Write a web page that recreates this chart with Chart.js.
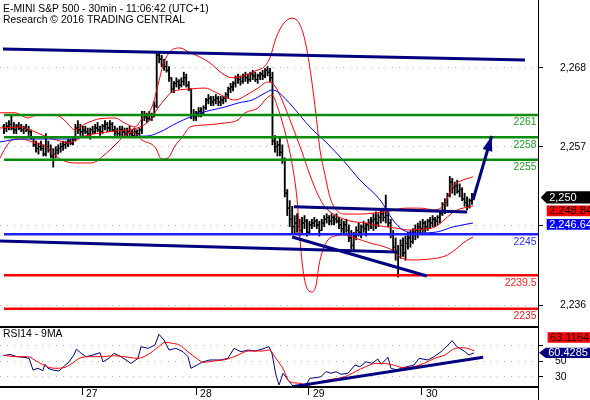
<!DOCTYPE html>
<html><head><meta charset="utf-8">
<script src="https://cdn.jsdelivr.net/npm/chart.js@4.4.1/dist/chart.umd.min.js"></script>
<style>
html,body{margin:0;padding:0;background:#fff;}
#wrap{position:relative;width:590px;height:400px;overflow:hidden;background:#fff;}
#c1{position:absolute;left:0;top:0;width:590px;height:327px;}
#c2{position:absolute;left:0;top:327px;width:590px;height:73px;}
</style></head><body>
<div id="wrap">
<canvas id="c1" width="590" height="327"></canvas>
<canvas id="c2" width="590" height="73"></canvas>
</div>
<script>
const FONT = "'Liberation Sans', Arial, sans-serif";
Chart.defaults.font.family = FONT;
Chart.defaults.font.size = 10.4;
Chart.defaults.color = '#000';

const titleLines = ['E-MINI S&P 500 - 30min - 11:06:42 (UTC+1)', 'Research \u00A9 2016 TRADING CENTRAL'];
const rsiTitle = 'RSI14 - 9MA';

// 30-min OHLC bars (index = bar number)
const highs = [2259.75,2260.0,2260.25,2261.0,2260.0,2259.75,2260.0,2259.75,2259.5,2259.75,2259.5,2259.0,
2258.0,2257.5,2257.25,2257.5,2257.0,2258.5,2257.5,2257.0,2256.5,2256.75,
2257.0,2257.25,2257.5,2257.5,2257.75,2257.75,2258.0,
2259.75,2260.25,2259.75,2259.5,2259.5,2259.25,2259.25,2259.5,2259.75,2260.0,2259.5,2259.75,2260.25,2260.0,2260.25,2260.0,2259.5,2259.25,2259.5,2259.5,
2259.25,2259.25,2259.5,2259.0,2259.25,2259.0,2259.25,
2261.5,2261.5,2261.25,2261.5,2261.25,2262.75,
2269.5,2269.5,2269.0,2268.5,2268.25,2267.5,
2266.0,2265.5,2266.0,2265.75,2266.0,2266.75,2266.5,2265.5,
2264.5,2261.75,2261.5,2262.0,2262.0,2262.25,
2263.25,2263.75,2263.5,2263.5,2263.75,2263.5,2263.5,2263.5,
2264.0,2264.75,2265.25,2265.5,2266.25,2266.5,2266.25,2266.5,2266.75,2266.5,2266.75,2267.0,2266.75,2266.5,2266.75,2267.0,2267.25,2267.5,
2267.25,2266.75,2258.25,2257.5,2258.0,2257.0,2255.25,2251.0,2249.5,2248.75,2247.5,2247.75,2247.0,
2247.25,2247.5,2247.0,2246.75,2247.0,2247.25,2247.0,2246.75,2247.0,2247.5,2247.75,2247.5,2247.75,2247.5,2247.75,2247.25,2247.0,2246.75,2247.0,
2246.25,2245.5,2245.25,2246.0,2246.5,2246.25,2246.75,2246.5,2247.0,2247.25,
2247.75,2248.0,2247.75,2248.25,2248.5,2250.25,2248.0,2247.0,2245.5,2244.5,2243.5,2244.25,2244.5,2244.75,2245.25,2245.5,2245.75,2246.25,2246.5,2246.75,2247.0,2246.75,2247.0,2247.25,2247.5,2247.25,2247.5,2248.0,
2249.25,2249.75,2250.5,2252.75,2252.5,2252.0,2252.25,2251.75,2251.25,2250.5,2250.0,2249.75,2250.5];
const lows = [2258.5,2258.75,2259.0,2259.0,2258.5,2258.5,2259.0,2258.75,2258.5,2258.75,2258.25,2257.75,
2256.75,2256.0,2255.75,2256.25,2255.5,2255.5,2256.0,2255.25,2254.0,2255.25,
2255.75,2256.0,2256.25,2256.5,2256.75,2257.0,2257.0,
2257.5,2258.5,2258.25,2258.0,2258.5,2258.25,2257.75,2258.5,2258.5,2258.75,2258.25,2258.5,2259.0,2258.75,2258.75,2258.75,2258.25,2258.25,2258.0,2258.25,
2258.0,2258.0,2258.25,2258.0,2258.0,2258.0,2258.25,
2258.5,2260.25,2260.0,2260.25,2260.25,2260.75,
2262.0,2268.0,2267.5,2267.0,2266.75,2265.5,
2264.0,2264.0,2264.75,2264.5,2264.75,2265.0,2264.75,2264.25,
2260.5,2260.25,2260.25,2260.75,2260.75,2261.0,
2261.75,2262.5,2262.25,2262.25,2262.5,2262.25,2262.25,2262.5,
2262.75,2263.25,2264.0,2264.25,2264.75,2265.25,2265.0,2265.25,2265.5,2265.25,2265.5,2265.75,2265.5,2265.25,2265.75,2265.75,2266.0,2266.25,
2265.5,2257.0,2256.0,2255.5,2255.5,2254.5,2250.0,2247.5,2246.0,2245.0,2245.0,2245.25,2244.75,
2245.0,2245.75,2244.75,2245.0,2245.75,2246.0,2245.75,2244.75,2245.5,2246.0,2246.5,2246.25,2246.25,2246.25,2246.5,2245.75,2245.25,2245.0,2245.25,
2244.0,2243.0,2242.75,2244.25,2244.75,2244.5,2245.25,2244.75,2245.5,2245.75,
2245.5,2245.75,2246.0,2246.5,2246.75,2246.5,2246.0,2244.5,2242.75,2241.5,2239.25,2241.75,2242.0,2241.5,2243.0,2243.25,2243.75,2244.25,2244.5,2245.0,2245.25,2245.25,2245.5,2245.75,2246.0,2246.0,2246.25,2246.5,
2247.5,2247.75,2248.75,2250.0,2250.5,2250.25,2250.5,2250.0,2249.5,2248.75,2248.25,2248.5,2249.0];
const closes = [2259.25,2259.5,2259.75,2259.25,2259.0,2259.5,2259.25,2259.0,2259.25,2259.0,2258.75,2258.0,
2257.0,2256.5,2256.75,2256.5,2255.75,2256.75,2256.25,2255.5,2255.75,2256.25,
2256.5,2256.75,2257.0,2257.25,2257.5,2257.25,2257.75,
2259.25,2259.0,2258.75,2259.0,2258.75,2258.5,2259.0,2258.75,2259.25,2259.0,2258.75,2259.5,2259.75,2259.25,2259.75,2259.0,2258.75,2258.5,2259.0,2258.75,
2258.5,2258.75,2258.5,2258.25,2258.75,2258.5,2259.0,
2261.0,2260.75,2260.5,2261.0,2260.75,2262.25,
2269.0,2268.5,2267.75,2267.5,2267.0,2266.0,
2264.5,2265.25,2265.5,2265.0,2265.5,2266.0,2265.0,2264.5,
2261.0,2260.75,2261.25,2261.5,2261.25,2262.0,
2263.0,2263.25,2262.75,2263.0,2263.25,2262.75,2263.0,2263.25,
2263.75,2264.5,2264.75,2265.25,2266.0,2265.75,2265.5,2266.25,2266.0,2265.75,2266.5,2266.25,2265.75,2266.25,2266.5,2266.25,2267.0,2266.75,
2266.0,2257.5,2256.75,2257.0,2256.0,2255.0,2250.5,2248.5,2247.0,2246.0,2246.5,2246.0,2245.5,
2246.5,2246.75,2245.25,2246.25,2246.5,2246.75,2246.25,2245.5,2246.5,2247.0,2247.25,2246.75,2247.25,2247.0,2246.75,2246.25,2245.75,2246.25,2245.5,
2244.5,2243.5,2244.75,2245.5,2245.25,2246.0,2245.75,2246.25,2246.5,2246.75,
2247.0,2246.5,2247.25,2247.75,2247.25,2247.5,2246.5,2245.0,2243.25,2242.5,2242.0,2243.5,2242.5,2243.75,2244.5,2244.0,2245.25,2245.5,2246.0,2245.75,2246.5,2246.0,2246.75,2246.5,2247.0,2246.75,2247.25,2247.75,
2249.0,2249.25,2250.25,2252.0,2251.25,2251.5,2250.75,2251.0,2249.75,2249.25,2248.75,2249.5,2250.0];
const opens = [2259.5,2259.25,2259.5,2259.75,2259.25,2259.0,2259.5,2259.25,2259.0,2259.25,2259.0,2258.75,
2258.0,2257.0,2256.5,2256.75,2256.5,2255.75,2256.75,2256.25,2255.5,2255.75,
2256.25,2256.5,2256.75,2257.0,2257.25,2257.5,2257.25,
2257.75,2259.25,2259.0,2258.75,2259.0,2258.75,2258.5,2259.0,2258.75,2259.25,2259.0,2258.75,2259.5,2259.75,2259.25,2259.75,2259.0,2258.75,2258.5,2259.0,
2258.75,2258.5,2258.75,2258.5,2258.25,2258.75,2258.5,
2259.0,2261.0,2260.75,2260.5,2261.0,2260.75,
2262.25,2269.0,2268.5,2267.75,2267.5,2267.0,
2266.0,2264.5,2265.25,2265.5,2265.0,2265.5,2266.0,2265.0,
2264.5,2261.0,2260.75,2261.25,2261.5,2261.25,
2262.0,2263.0,2263.25,2262.75,2263.0,2263.25,2262.75,2263.0,
2263.25,2263.75,2264.5,2264.75,2265.25,2266.0,2265.75,2265.5,2266.25,2266.0,2265.75,2266.5,2266.25,2265.75,2266.25,2266.5,2266.25,2267.0,
2266.75,2266.0,2257.5,2256.75,2257.0,2256.0,2255.0,2250.5,2248.5,2247.0,2246.0,2246.5,2246.0,
2245.5,2246.5,2246.75,2245.25,2246.25,2246.5,2246.75,2246.25,2245.5,2246.5,2247.0,2247.25,2246.75,2247.25,2247.0,2246.75,2246.25,2245.75,2246.25,
2245.5,2244.5,2243.5,2244.75,2245.5,2245.25,2246.0,2245.75,2246.25,2246.5,
2246.75,2247.0,2246.5,2247.25,2247.75,2247.25,2247.5,2246.5,2245.0,2243.25,2242.5,2242.0,2243.5,2242.5,2243.75,2244.5,2244.0,2245.25,2245.5,2246.0,2245.75,2246.5,2246.0,2246.75,2246.5,2247.0,2246.75,2247.25,
2247.75,2249.0,2249.25,2250.25,2252.0,2251.25,2251.5,2250.75,2251.0,2249.75,2249.25,2248.75,2249.5];

// indicator lines: [bar index, value]
const bbUpper = [[-1.6,2261.3],[4.5,2261.3],[9.7,2260.6],[12.2,2260.9],[16.6,2261.0],[21.9,2260.9],[25.2,2260.1],[28.8,2259.0],[32.9,2259.8],[39,2260.5],[45.1,2260.6],[49.1,2259.9],[53.2,2259.4],[56,2260.5],[60.1,2262.1],[62.5,2265.0],[64.6,2267.7],[67.4,2269.5],[71.5,2270.0],[74.7,2269.5],[78.8,2268.9],[83.6,2268.0],[88.5,2266.6],[92.6,2266.0],[96.6,2266.2],[101.9,2266.9],[106,2267.6],[108,2268.7],[110.4,2271.3],[113.3,2273.2],[116.9,2274.0],[120.2,2273.1],[122.6,2270.4],[124.6,2266.4],[126.7,2261.0],[128.3,2256.3],[130.3,2253.0],[132.4,2249.9],[134.8,2248.3],[138.4,2247.7],[144.5,2247.7],[150.6,2247.85],[156.7,2248.1],[162.8,2248.5],[168.9,2248.5],[175,2248.25],[178.2,2248.8],[180.3,2250.1],[182.3,2251.5],[185.1,2252.1],[190.4,2252.7]];
const bbMiddle = [[-1.6,2259.26],[6.5,2259.39],[10.6,2258.99],[14.6,2258.45],[18.7,2257.91],[22.7,2257.51],[26,2257.24],[29.2,2257.64],[32.9,2258.18],[39,2258.58],[45.1,2258.85],[50.3,2258.99],[55.2,2259.39],[59.3,2260.33],[62.5,2261.94],[65.4,2263.15],[68.2,2264.09],[75.5,2264.49],[81.6,2264.62],[85.7,2264.09],[89.7,2263.42],[93.8,2263.01],[97.8,2263.55],[103.1,2264.62],[107.2,2265.43],[110,2264.89],[112.9,2263.01],[116.9,2259.66],[121,2256.03],[124.2,2252.95],[127.5,2250.26],[130.3,2248.65],[134.4,2247.58],[140.5,2246.77],[146.6,2246.5],[152.7,2246.1],[158.8,2245.83],[164.8,2245.56],[170.9,2245.7],[175,2245.97],[179.1,2247.04],[183.1,2248.11],[190.4,2248.79]];
const bbLower = [[-1.6,2255.23],[0.8,2256.7],[3.2,2257.64],[7.3,2257.78],[11.4,2257.38],[16.6,2256.84],[20.7,2255.63],[23.5,2254.96],[28.8,2254.56],[34.9,2254.56],[37.8,2254.83],[40.2,2255.5],[43,2256.3],[46.3,2257.38],[49.1,2258.32],[52,2258.72],[56,2257.64],[61.3,2256.7],[64.1,2255.09],[66.6,2255.23],[69.4,2256.84],[72.7,2258.18],[75.5,2259.39],[81.6,2259.66],[89.7,2259.93],[95,2260.33],[97.8,2261.27],[103.1,2261.94],[106.4,2263.15],[108.8,2263.68],[111.2,2261.94],[114.1,2258.72],[116.9,2254.56],[119,2249.59],[120.2,2244.22],[121.4,2240.19],[123.4,2237.51],[125.1,2237.24],[126.7,2238.18],[127.9,2240.87],[129.5,2242.88],[131.5,2244.22],[134.4,2244.76],[138.4,2244.89],[142.5,2244.49],[148.6,2243.82],[154.7,2243.28],[158.8,2242.61],[160.8,2241.94],[164.8,2241.54],[173,2241.67],[179.1,2242.07],[183.1,2242.88],[186.4,2243.82],[190.4,2244.62]];
const maBlue = [[-1.6,2257.38],[6.5,2257.78],[10.6,2257.78],[26.8,2257.78],[32.9,2258.05],[58.1,2258.18],[63.3,2258.72],[70.2,2259.93],[75.5,2260.73],[79.6,2261.27],[84.4,2261.67],[89.7,2262.07],[95,2262.61],[100.7,2263.01],[106,2263.95],[108.8,2264.36],[111.2,2264.09],[117.3,2262.07],[124.2,2259.39],[131.1,2257.24],[137.6,2254.96],[144.5,2252.28],[152.7,2249.59],[157.9,2246.91],[162,2245.56],[167.7,2245.16],[175.8,2245.3],[182.3,2245.97],[190.4,2246.5]];

// analyst levels and drawings
const greenLevels = [2261, 2258, 2255];
const blueLevels = [2245];
const redLevels = [2239.5, 2235];
const trendLines = [
  [[-0.4,2269.86],[211.5,2268.38]],
  [[-1.6,2244.09],[159.6,2242.61]],
  [[117.7,2248.69],[188,2247.98]],
  [[117,2244.62],[171.7,2239.39]]
];
const arrowLine = [[190.4,2249.59],[198,2258.18]];

const priceTickValues = [2235.46, 2246.14, 2256.74, 2267.35];
const priceTickLabels = ['2,236', '2,246', '2,257', '2,268'];
const priceMarkers = [2250.00, 2248.84, 2246.64];
const priceMarkerLabels = ['2,250', '2,248.84', '2,246.64'];

// RSI panel
const rsi = [[-0.2,56.7],[2.4,58.5],[5.3,55.5],[8.1,54.7],[10.2,53.4],[11.8,38.5],[13.8,40.7],[15.8,37.7],[16.6,45.8],[17.9,40.7],[19.9,38.5],[22.3,37.3],[23.5,40.7],[26.4,49],[28.4,57.6],[29.4,65.2],[31.3,59.8],[33.3,55.5],[36.1,57.6],[39,60.6],[40.2,49],[42.6,53.4],[44.7,59.8],[47.5,55.5],[51.6,47],[54.4,53.4],[55.6,68.2],[58.5,66.1],[61.3,70.4],[62.9,84],[65,76.7],[67,64],[69.8,66.1],[72.7,61.8],[74.7,55.5],[75.9,40.7],[78.4,44.9],[80.8,49],[83.6,51.3],[88.1,51.3],[90.9,53.4],[93.4,66.1],[96.2,61.8],[99.1,64],[101.9,62.7],[104.8,65.2],[107.6,68.2],[108.8,59.8],[110.4,32.2],[111.7,19.5],[113.3,34.4],[115.3,25.8],[117.3,18.2],[120.2,17.3],[123,21.6],[124.2,28],[126.7,28.8],[128.7,30],[130.7,36.4],[132.8,34.4],[134.8,36.4],[136.8,33.1],[139.7,34.4],[142.5,44.9],[144.5,42.7],[147,49],[149.4,47],[151.8,52.5],[153.1,45.8],[155.9,54.7],[157.1,40.7],[159.6,38.5],[161.6,41.5],[163.6,42.7],[166.5,44.9],[168.5,53.4],[172.1,51.3],[174.6,55.5],[177.4,61.8],[180.3,70.4],[181.9,75.8],[183.9,68.2],[186.8,62.7],[188.8,57.6],[190.8,60.43]];
const rsiMA = [[-0.2,57.6],[1.2,56.7],[5.4,55.5],[9.6,55.5],[12.4,51.3],[16.6,44],[20.8,40.7],[24.3,41.5],[27.1,45.8],[30.6,53.4],[34.8,55.5],[39,55.5],[44.6,56.7],[48.8,55.5],[54.4,53.4],[58.6,58.5],[62.8,68.2],[65.6,73.8],[68.4,72.5],[71.2,70.4],[74.7,61.8],[78.2,53.4],[81,48.3],[85.2,50],[90.8,52.5],[95,57.6],[99.2,62.7],[104.8,62.7],[107.6,64],[110.4,53.4],[113.2,40.7],[116,23.7],[120.2,21.6],[123,18.6],[125.8,21.6],[131.4,25.8],[138.4,30],[142.6,36.4],[146.8,42.7],[151,47],[153.8,47],[158,44.9],[162.2,41.5],[166.4,42.7],[170.6,47],[174.8,53.4],[179,57.6],[183.2,66.1],[186.6,66.9],[190.9,63.1]];
const rsiTrend = [[117,17.3],[194.5,54.7]];
const rsiTickValues = [30, 50, 70];
const rsiTickLabels = ['30', '50', ''];
const rsiMarkers = [63.1164, 60.4285];
const rsiMarkerLabels = ['63.1164', '60.4285'];

const dayTickIndex = [31.7, 78, 123.8, 169.7];
const dayLabels = ['27', '28', '29', '30'];

// ---------- layout / styling ----------
const X_MIN = -1.62, X_MAX = 216.8;
const AXIS_W = 52;
const NAVY = '#000080';
const pts = a => a.map(([x, y]) => ({x, y}));
function lineDS(data, color, width, order, extra) {
  return Object.assign({type: 'line', data, borderColor: color, backgroundColor: color, borderWidth: width,
    pointRadius: 0, fill: false, order, tension: 0, borderCapStyle: 'butt'}, extra || {});
}
const smooth = {cubicInterpolationMode: 'monotone'};
const levelDefs = [
  ...greenLevels.map(v => ({v, line: '#0a8c0a', text: '#22a022'})),
  ...blueLevels.map(v => ({v, line: '#1f1fff', text: '#2c2cff'})),
  ...redLevels.map(v => ({v, line: '#ff0000', text: '#ff1a1a'}))
];

const mainDatasets = [
  {type: 'bar', data: highs.map((h, i) => ({x: i, y: [lows[i], h]})), backgroundColor: '#000',
   borderWidth: 0, barThickness: 1.2, order: 20},
  {type: 'scatter', data: opens.map((o, i) => ({x: i - 0.41, y: o})), pointStyle: 'line', pointRadius: 1,
   borderColor: '#000', borderWidth: 1, order: 19},
  {type: 'scatter', data: closes.map((c, i) => ({x: i + 0.41, y: c})), pointStyle: 'line', pointRadius: 1,
   borderColor: '#000', borderWidth: 1, order: 19},
  lineDS(pts(bbUpper), '#ff0000', 1, 8, smooth),
  lineDS(pts(bbMiddle), '#ff0000', 1, 8, smooth),
  lineDS(pts(bbLower), '#ff0000', 1, 8, smooth),
  lineDS(pts(maBlue), '#0000ff', 1, 7, smooth),
  ...levelDefs.map(l => lineDS([{x: 0, y: l.v}, {x: X_MAX, y: l.v}], l.line, 2.5, 3)),
  ...trendLines.map(t => lineDS(pts(t), NAVY, 3, 2)),
  lineDS(pts(arrowLine), NAVY, 3, 1)
];

function drawBox(ctx, x0, tipX, cy, h, fill, txtColor, text) {
  ctx.beginPath();
  if (tipX !== null) {
    ctx.moveTo(tipX, cy); ctx.lineTo(x0, cy - h / 2); ctx.lineTo(590, cy - h / 2);
    ctx.lineTo(590, cy + h / 2); ctx.lineTo(x0, cy + h / 2); ctx.closePath();
  } else {
    ctx.rect(x0, cy - h / 2, 590 - x0, h);
  }
  ctx.fillStyle = fill; ctx.fill();
  ctx.fillStyle = txtColor; ctx.textAlign = 'left'; ctx.textBaseline = 'middle';
  ctx.font = '11px ' + FONT;
  ctx.fillText(text, x0 + 2.5, cy + 0.5);
}

const mainDecor = {
  id: 'mainDecor',
  afterDatasetsDraw(chart) {
    const {ctx, chartArea: a, scales: {x, y}} = chart;
    ctx.save();
    ctx.font = '10.4px ' + FONT; ctx.textAlign = 'right'; ctx.textBaseline = 'middle';
    levelDefs.forEach(l => {
      ctx.fillStyle = l.text;
      ctx.fillText(String(l.v), a.right - 1.5, y.getPixelForValue(l.v) + 7.5);
    });
    const [p0, p1] = arrowLine.map(([i, v]) => [x.getPixelForValue(i), y.getPixelForValue(v)]);
    const dx = p1[0] - p0[0], dy = p1[1] - p0[1], L = Math.hypot(dx, dy);
    const ux = dx / L, uy = dy / L, nx = -uy, ny = ux;
    const bx = p1[0] - ux * 15, by = p1[1] - uy * 15;
    ctx.beginPath();
    ctx.moveTo(p1[0], p1[1]);
    ctx.lineTo(bx + nx * 5, by + ny * 5);
    ctx.lineTo(bx - nx * 5, by - ny * 5);
    ctx.closePath();
    ctx.fillStyle = NAVY; ctx.fill();
    ctx.restore();
  },
  afterDraw(chart) {
    const {ctx, chartArea: a, scales: {y}} = chart;
    ctx.save();
    ctx.fillStyle = '#000';
    ctx.font = '10.4px ' + FONT; ctx.textAlign = 'left'; ctx.textBaseline = 'middle';
    ctx.fillText(titleLines[0], 3, 9.5);
    ctx.fillText(titleLines[1], 3, 20.5);
    ctx.fillRect(a.right, 0, 1, 327);
    ctx.fillRect(0, 326, a.right + 1, 1);
    const c0 = y.getPixelForValue(priceMarkers[0]) + 0.5;
    const c1 = Math.max(y.getPixelForValue(priceMarkers[1]), c0 + 13.5);
    const c2 = Math.max(y.getPixelForValue(priceMarkers[2]), c1 + 13.4);
    drawBox(ctx, 546.7, 540.7, c0, 12.3, '#000000', '#ffffff', priceMarkerLabels[0]);
    drawBox(ctx, 546.7, null, c1, 10.7, '#ff0000', '#000000', priceMarkerLabels[1]);
    drawBox(ctx, 546.7, null, c2, 10.7, '#0000ff', '#ffffff', priceMarkerLabels[2]);
    ctx.restore();
  }
};

new Chart(document.getElementById('c1'), {
  type: 'line',
  data: {datasets: mainDatasets},
  options: {
    responsive: false, animation: false, devicePixelRatio: 1, events: [],
    layout: {padding: 0, autoPadding: false},
    plugins: {legend: {display: false}, tooltip: {enabled: false}},
    scales: {
      x: {type: 'linear', min: X_MIN, max: X_MAX, display: false, offset: false, grid: {offset: false}},
      y: {
        type: 'linear', position: 'right', min: 2232.54, max: 2276.44,
        afterBuildTicks: s => { s.ticks = priceTickValues.map(v => ({value: v})); },
        afterFit: s => { s.width = AXIS_W; s.paddingTop = 0; s.paddingBottom = 0; },
        ticks: {callback: (v, i) => priceTickLabels[i], padding: 17, autoSkip: false, color: '#000'},
        grid: {color: '#b8b8b8', tickColor: '#000', tickLength: 5, lineWidth: 1},
        border: {display: false, dash: [1, 6]}
      }
    }
  },
  plugins: [mainDecor]
});

const rsiDecor = {
  id: 'rsiDecor',
  afterDraw(chart) {
    const {ctx, chartArea: a, scales: {y}} = chart;
    ctx.save();
    ctx.fillStyle = '#000';
    ctx.fillRect(0, 0, a.right + 1, 1);
    ctx.fillRect(0, a.bottom - 1, a.right + 1, 2);
    ctx.fillRect(a.right, 0, 1, 73);
    ctx.font = '10.4px ' + FONT; ctx.textAlign = 'left'; ctx.textBaseline = 'middle';
    ctx.fillText(rsiTitle, 3, 7.5);
    const cn = y.getPixelForValue(rsiMarkers[1]);
    const cr = Math.min(y.getPixelForValue(rsiMarkers[0]), cn - 15.3);
    drawBox(ctx, 547.6, null, cr, 10.7, '#ff0000', '#000000', rsiMarkerLabels[0]);
    drawBox(ctx, 545.7, 539, cn, 10.3, NAVY, '#ffffff', rsiMarkerLabels[1]);
    ctx.restore();
  }
};

new Chart(document.getElementById('c2'), {
  type: 'line',
  data: {datasets: [
    lineDS(pts(rsi), NAVY, 1, 3),
    lineDS(pts(rsiMA), '#ff0000', 1, 2, smooth),
    lineDS(pts(rsiTrend), NAVY, 3, 1)
  ]},
  options: {
    responsive: false, animation: false, devicePixelRatio: 1, events: [],
    layout: {padding: 0, autoPadding: false},
    plugins: {legend: {display: false}, tooltip: {enabled: false}},
    scales: {
      x: {
        type: 'linear', position: 'bottom', min: X_MIN, max: X_MAX, offset: false,
        afterBuildTicks: s => { s.ticks = dayTickIndex.map(v => ({value: v})); },
        afterFit: s => { s.height = 13; s.paddingLeft = 0; s.paddingRight = 0; },
        ticks: {callback: (v, i) => dayLabels[i], align: 'start', labelOffset: 4, padding: -7.5,
                autoSkip: false, maxRotation: 0, color: '#000'},
        grid: {drawOnChartArea: false, tickColor: '#000', tickLength: 8, offset: false},
        border: {display: false}
      },
      y: {
        type: 'linear', position: 'right', min: 16.9, max: 93.3,
        afterBuildTicks: s => { s.ticks = rsiTickValues.map(v => ({value: v})); },
        afterFit: s => { s.width = AXIS_W; s.paddingTop = 0; s.paddingBottom = 0; },
        ticks: {callback: (v, i) => rsiTickLabels[i], padding: 12, autoSkip: false, color: '#000'},
        grid: {color: '#b8b8b8', tickColor: '#000', tickLength: 5, lineWidth: 1},
        border: {display: false, dash: [1, 6]}
      }
    }
  },
  plugins: [rsiDecor]
});
</script>
</body></html>
